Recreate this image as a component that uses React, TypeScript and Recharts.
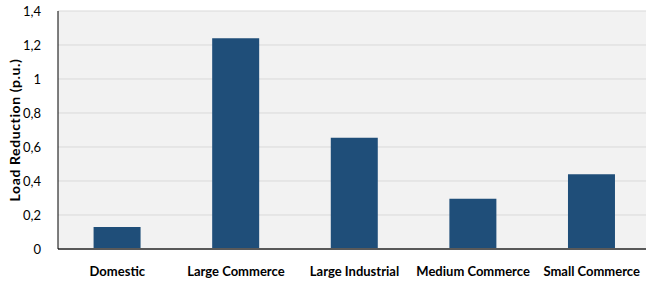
import React from "react";
import { BarChart, Bar, XAxis, YAxis, CartesianGrid } from "recharts";

const categories = ["Domestic", "Large Commerce", "Large Industrial", "Medium Commerce", "Small Commerce"];
const loadReduction = [0.13, 1.24, 0.655, 0.295, 0.44];
const yTicks = [0, 0.2, 0.4, 0.6, 0.8, 1, 1.2, 1.4];

const data = categories.map((c, i) => ({ name: c, value: loadReduction[i] }));

const fmt = (v: number) => String(Math.round(v * 10) / 10).replace(".", ",");

export default function App() {
  return (
    <div style={{ position: "absolute", left: 0, top: 0, background: "#fff" }}>
      <BarChart
        width={651}
        height={283}
        data={data}
        margin={{ top: 11, right: 0, bottom: 0, left: 0 }}
        barCategoryGap="30%"
      >
        <CartesianGrid horizontal vertical={false} stroke="#D9D9D9" fill="#F2F2F2" />
        <XAxis
          dataKey="name"
          height={34}
          tickLine={false}
          axisLine={{ stroke: "#595959", strokeWidth: 2 }}
          tickMargin={12}
          tick={{ fontFamily: "Lato", fontWeight: 700, fontSize: 13, fill: "#000" }}
          interval={0}
        />
        <YAxis
          width={58}
          domain={[0, 1.4]}
          ticks={yTicks}
          tickFormatter={fmt}
          tickLine={false}
          axisLine={{ stroke: "#000", strokeWidth: 1 }}
          tickMargin={11}
          tick={{ fontFamily: "Lato", fontSize: 13, fill: "#000" }}
          label={{
            value: "Load Reduction (p.u.)",
            angle: -90,
            position: "insideLeft",
            offset: 15,
            style: { fontFamily: "Lato", fontWeight: 700, fontSize: 14, letterSpacing: 0.6, fill: "#000", textAnchor: "middle" },
          }}
        />
        <Bar dataKey="value" fill="#1F4E79" isAnimationActive={false} />
      </BarChart>
    </div>
  );
}
